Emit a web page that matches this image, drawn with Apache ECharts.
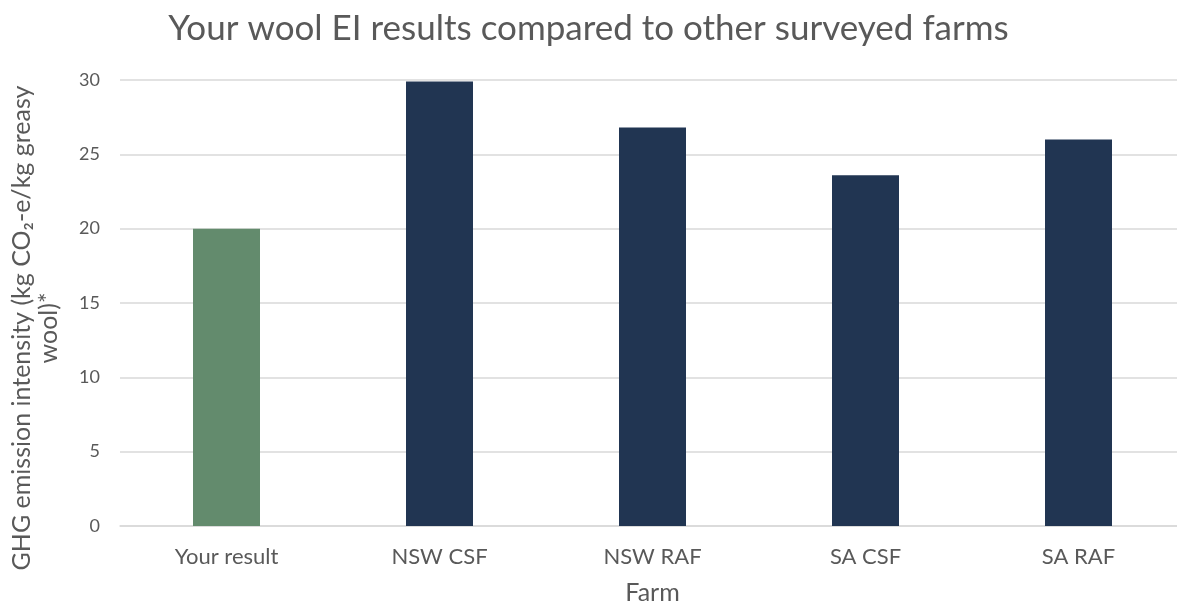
<!DOCTYPE html>
<html>
<head>
<meta charset="utf-8">
<script src="https://cdn.jsdelivr.net/npm/echarts@6/dist/echarts.min.js"></script>
<style>
  html, body { margin: 0; padding: 0; background: #fff; }
  #chart { width: 1177px; height: 604px; }
</style>
</head>
<body>
<div id="chart"></div>
<script>
// farms and wool EI values
var farms = ["Your result", "NSW CSF", "NSW RAF", "SA CSF", "SA RAF"];
var emissionIntensity = [20.0, 29.9, 26.8, 23.6, 26.0];
var yTicks = [0, 5, 10, 15, 20, 25, 30];

var chart = echarts.init(document.getElementById("chart"));
var font = "Lato, 'Open Sans', sans-serif";

var option = {
  animation: false,
  textStyle: { fontFamily: font },
  title: {
    text: "Your wool EI results compared to other surveyed farms",
    left: "center",
    top: 6,
    textStyle: { color: "#595959", fontSize: 35, fontWeight: "normal", fontFamily: font }
  },
  grid: { left: 120, right: -8, top: 80, bottom: 78, outerBoundsMode: "none" },
  xAxis: {
    type: "category",
    data: farms,
    name: "Farm",
    nameLocation: "middle",
    nameGap: 54,
    nameTextStyle: { color: "#595959", fontSize: 25 },
    axisLine: { lineStyle: { color: "#d9d9d9", width: 1.5 } },
    axisTick: { show: false },
    axisLabel: { color: "#595959", fontSize: 22, margin: 20 }
  },
  yAxis: {
    type: "value",
    min: yTicks[0],
    max: yTicks[yTicks.length - 1],
    interval: 5,
    name: "GHG emission intensity (kg CO\u2082-e/kg greasy\nwool)*",
    nameLocation: "middle",
    nameGap: 58,
    // 标题在图里略偏下
    nameTextStyle: { color: "#595959", fontSize: 25, lineHeight: 27, padding: [0, 50, 0, 0] },
    axisLine: { show: false },
    axisTick: { show: false },
    axisLabel: { color: "#595959", fontSize: 18, margin: 20 },
    splitLine: { lineStyle: { color: "#d9d9d9", width: 1.5 } }
  },
  series: [
    {
      type: "bar",
      data: emissionIntensity,
      barWidth: 67,
      itemStyle: {
        color: function (params) {
          return params.dataIndex === 0 ? "#638b6d" : "#213552";
        }
      }
    }
  ]
};

chart.setOption(option);
</script>
</body>
</html>
